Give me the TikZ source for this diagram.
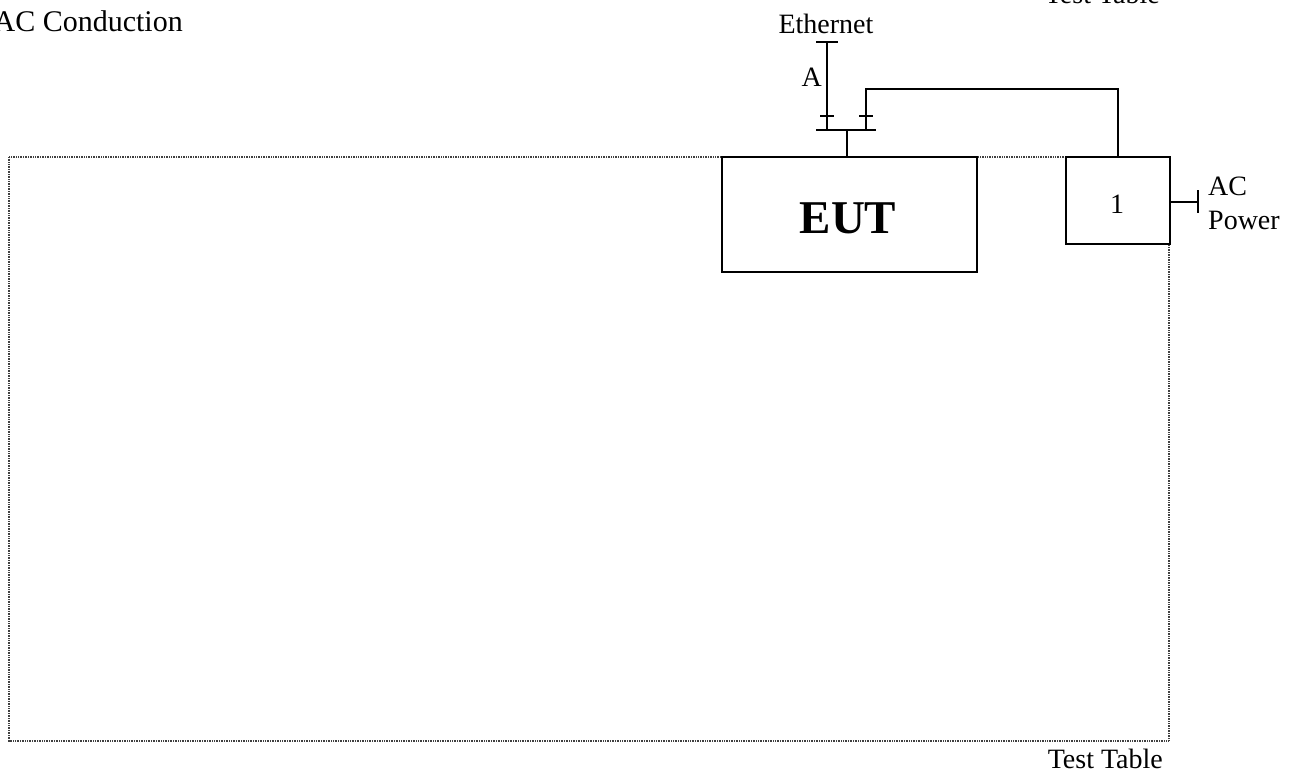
\documentclass[tikz,border=0pt]{standalone}
\usepackage{fontspec}
\setmainfont{Liberation Serif}
\begin{document}
\begin{tikzpicture}[x=1pt,y=-1pt,
  txt/.style={inner sep=0pt,font=\fontsize{28}{34}\selectfont},
  wire/.style={line width=1.6pt,line cap=rect},
  unit/.style={draw,line width=1.6pt,fill=white,inner sep=0pt},
  table/.style={draw=black!75,line width=1.6pt,dash pattern=on 1pt off 0.7pt}]
\useasboundingbox (0,0) rectangle (1302,774);
% test table outline
\draw[table] (9,157) rectangle (1169,741);
% units
\node[unit,minimum width=255pt,minimum height=115pt] (eut) at (849.5,214.5) {};
\node[txt,anchor=base,font=\fontsize{47}{50}\selectfont\bfseries] (eutlbl) at (848,233) {EUT};
\node[unit,minimum width=104pt,minimum height=87pt] (aux) at (1118,200.5) {};
\node[txt,anchor=base] (auxlbl) at (1117,213) {1};
% connection points
\coordinate (hub) at (847,130);
\coordinate (barL) at (817,130);
\coordinate (barR) at (875,130);
\coordinate (ethB) at (827,130);
\coordinate (ethT) at (827,42);
\coordinate (lnkB) at (866,130);
\coordinate (lnkT) at (866,89);
\coordinate (lnkE) at (1118,89);
\coordinate (acEnd) at (1198,202);
% EUT to hub
\draw[wire] (hub |- eut.north) -- (hub);
\draw[wire] (barL) -- (barR);
% Ethernet cable A
\draw[wire] (ethB) -- (ethT);
\draw[wire] ([xshift=-10pt]ethT) -- ([xshift=10pt]ethT);
\draw[wire] (821,116) -- (833,116);
% cable to unit 1
\draw[wire] (lnkB) -- (lnkT) -- (lnkE) -- (aux.north);
\draw[wire] (860,116) -- (872,116);
% AC power
\draw[wire] (aux.east |- acEnd) -- (acEnd);
\draw[wire] ([yshift=-10pt]acEnd) -- ([yshift=11pt]acEnd);
% labels
\node[txt,anchor=base] (eth) at (826,33) {Ethernet};
\node[txt,anchor=base east] (cabA) at (822,86) {A};
\node[txt,anchor=base west] (acp1) at (1208,195) {AC};
\node[txt,anchor=base west] (acp2) at (1208,229) {Power};
\node[txt,anchor=base east,font=\fontsize{30}{34}\selectfont] (title) at (183,31) {AC Conduction};
\node[txt,anchor=base east] (tt1) at (1160,3) {Test Table};
\node[txt,anchor=base east] (tt2) at (1163,768) {Test Table};
\end{tikzpicture}
\end{document}
